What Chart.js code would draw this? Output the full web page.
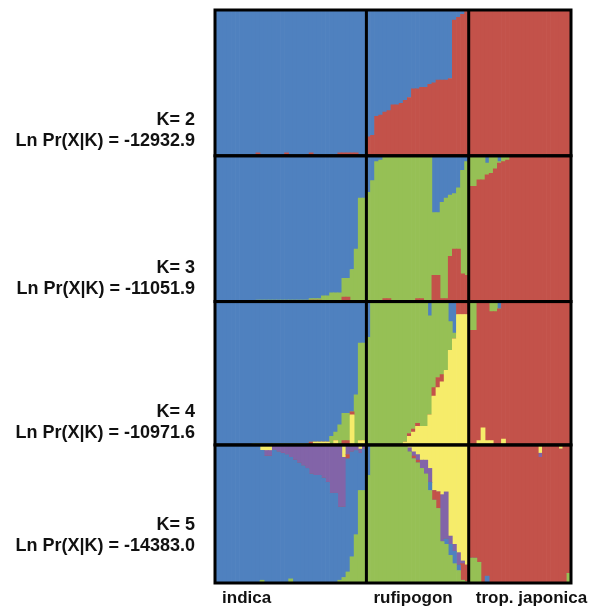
<!DOCTYPE html>
<html>
<head>
<meta charset="utf-8">
<title>STRUCTURE K=2..5</title>
<script src="https://cdn.jsdelivr.net/npm/chart.js@4/dist/chart.umd.min.js"></script>
<style>
  html, body { margin: 0; padding: 0; background: #fff; }
  canvas { display: block; }
</style>
</head>
<body>
<canvas id="structure" width="592" height="610"></canvas>
<script>
// Groups of individuals along the x axis
const groups = ['indica', 'rufipogon', 'trop. japonica'];
const groupSizes = [37, 25, 25];

// Panel labels (left of each panel)
const panelLabels = [
  ['K= 2', 'Ln Pr(X|K) = -12932.9'],
  ['K= 3', 'Ln Pr(X|K) = -11051.9'],
  ['K= 4', 'Ln Pr(X|K) = -10971.6'],
  ['K= 5', 'Ln Pr(X|K) = -14383.0']
];

// Cluster colours
const BLUE = '#4f81bf';
const RED = '#c3524a';
const GREEN = '#96c055';
const YELLOW = '#f6ec6a';
const PURPLE = '#8264a8';

// Membership coefficients, one value per individual
// (rows: indica 0-36, rufipogon 37-61, trop. japonica 62-86)

// K = 2
const k2Red = [
  0,0,0,0,0,0,0,0,0,0, .02,0,0,0,0,0,0,.02,0,0, 0,0,0,.02,0,0,0,0,0,0, .02,.02,.02,.02,.02,0,0,
  .13,.14,.27,.28,.30,.31,.35,.35,.36,.38, .40,.46,.46,.47,.47,.49,.50,.52,.52,.52, .53,.93,.95,.97,.99,
  1,1,1,1,1,1,1,1,1,1, 1,1,1,1,1,1,1,1,1,1, 1,1,1,1,1
];
const k2Blue = [
  1,1,1,1,1,1,1,1,1,1, .98,1,1,1,1,1,1,.98,1,1, 1,1,1,.98,1,1,1,1,1,1, .98,.98,.98,.98,.98,1,1,
  .87,.86,.73,.72,.70,.69,.65,.65,.64,.62, .60,.54,.54,.53,.53,.51,.50,.48,.48,.48, .47,.07,.05,.03,.01,
  0,0,0,0,0,0,0,0,0,0, 0,0,0,0,0,0,0,0,0,0, 0,0,0,0,0
];

// K = 3
const k3Red = [
  0,0,0,0,0,0,0,0,0,0, 0,0,0,0,0,0,0,0,0,0, 0,0,0,.01,.01,.01,0,0,0,0, 0,.03,.03,0,0,0,0,
  0,0,0,0,.02,.02,0,0,0,0, 0,0,.02,.02,0,0,.18,.18,.02,.02, .31,.36,.36,.19,.18,
  .79,.79,.835,.835,.87,.88,.91,.95,.96,.97, .99,.99,.99,.99,1,1,1,1,1,1, 1,1,1,1,1
];
const k3Green = [
  0,0,0,0,0,0,0,0,0,0, .01,.01,.01,.01,.01,.01,.01,.01,.01,.01, .01,.01,.01,.01,.01,.01,.04,.04,.06,.06, .06,.13,.13,.22,.36,.71,.71,
  .75,.83,.96,.97,.98,.98,1,1,1,1, 1,1,.98,.98,1,1,.43,.43,.66,.69, .42,.38,.42,.71,.78,
  .21,.21,.165,.165,.08,.12,.09,.01,.04,.03, .01,.01,.01,.01,0,0,0,0,0,0, 0,0,0,0,0
];
const k3Blue = [
  1,1,1,1,1,1,1,1,1,1, .99,.99,.99,.99,.99,.99,.99,.99,.99,.99, .99,.99,.99,.98,.98,.98,.96,.96,.94,.94, .94,.84,.84,.78,.64,.29,.29,
  .25,.17,.04,.03,0,0,0,0,0,0, 0,0,0,0,0,0,.39,.39,.32,.29, .27,.26,.22,.10,.04,
  0,0,0,0,.05,0,0,.04,0,0, 0,0,0,0,0,0,0,0,0,0, 0,0,0,0,0
];

// K = 4
const k4Yellow = [
  0,0,0,0,0,0,0,0,0,0, 0,0,0,0,0,0,0,0,0,0, 0,0,0,0,.02,.02,.02,.02,0,.03, 0,0,0,.21,0,.03,.03,
  0,0,0,0,0,0,0,0,0,.02, .06,.09,.13,.13,.13,.21,.34,.40,.44,.52, .66,.74,.91,.91,.91,
  0,0,.03,.12,.03,.03,0,0,.04,0, 0,0,0,0,0,0,0,0,0,0, 0,0,0,0,0
];
const k4Red = [
  0,0,0,0,0,0,0,0,0,0, 0,0,0,0,0,0,0,0,0,0, 0,0,0,.02,0,0,0,0,0,0, 0,.03,.03,.02,0,0,0,
  0,0,0,0,0,0,0,0,0,0, .02,.02,.02,0,0,0,.06,.07,.05,0, 0,0,.09,.09,.09,
  .80,.80,.97,.88,.97,.90,.93,.95,.96,1, 1,1,1,1,1,1,1,1,1,1, 1,1,1,1,1
];
const k4Green = [
  0,0,0,0,0,0,0,0,0,.01, .01,.01,.01,.01,.01,.01,.01,.01,.01,.01, .01,.01,.01,0,0,0,0,0,.06,.06, .14,.19,.19,0,.35,.68,.68,
  .75,1,1,1,1,1,1,1,1,.98, .92,.89,.85,.87,.87,.69,.60,.53,.51,.48, .20,.04,0,0,0,
  .20,.20,0,0,0,.07,.07,0,0,0, 0,0,0,0,0,0,0,0,0,0, 0,0,0,0,0
];
const k4Blue = [
  1,1,1,1,1,1,1,1,1,.99, .99,.99,.99,.99,.99,.99,.99,.99,.99,.99, .99,.99,.99,.98,.98,.98,.98,.98,.94,.91, .86,.78,.78,.77,.65,.29,.29,
  .25,0,0,0,0,0,0,0,0,0, 0,0,0,0,0,.10,0,0,0,0, .14,.22,0,0,0,
  0,0,0,0,0,0,0,.05,0,0, 0,0,0,0,0,0,0,0,0,0, 0,0,0,0,0
];

// K = 5
const k5Green = [
  0,0,0,0,0,0,0,0,0,0, 0,.02,0,0,0,0,0,0,.03,0, 0,0,0,0,0,0,0,0,0,0, .02,.04,.08,.19,.35,.67,.67,
  .78,1,1,1,1,1,1,1,1,1, .95,.90,.87,.83,.79,.67,.60,.54,.30,.28, .20,.14,.09,.02,.01,
  .18,.18,.15,0,0,0,0,0,0,0, 0,0,0,0,0,0,0,0,0,0, 0,0,0,0,.07
];
const k5Blue = [
  1,1,1,1,1,1,1,1,1,1, 1,.94,.92,.92,.96,.95,.94,.93,.88,.89, .87,.85,.83,.79,.78,.78,.76,.73,.65,.65, .53,.51,.82,.76,.61,.27,.30,
  .22,0,0,0,0,0,0,0,0,0, 0,0,0,0,0,.06,0,0,0,.04, .08,.09,.04,0,0,
  0,0,0,0,.05,0,0,0,0,0, 0,0,0,0,0,0,0,0,0,0, 0,0,0,0,0
];
const k5Red = [
  0,0,0,0,0,0,0,0,0,0, 0,0,0,0,0,0,0,0,0,0, 0,0,0,0,0,0,0,0,0,0, 0,0,.03,0,0,0,0,
  0,0,0,0,0,0,0,0,0,0, 0,.02,.02,0,0,0,.07,.12,0,0, 0,0,0,.12,.12,
  .82,.82,.85,1,.95,1,1,1,1,1, 1,1,1,1,1,1,1,.91,1,1, 1,1,.97,1,.93
];
const k5Purple = [
  0,0,0,0,0,0,0,0,0,0, 0,0,.04,.04,.04,.05,.06,.07,.09,.11, .13,.15,.17,.21,.22,.22,.24,.27,.35,.35, .45,.36,.07,.05,.04,.03,.03,
  0,0,0,0,0,0,0,0,0,0, .03,.03,.04,.06,.10,.10,0,0,.34,.34, .06,.05,.09,.02,0,
  0,0,0,0,0,0,0,0,0,0, 0,0,0,0,0,0,0,.03,0,0, 0,0,0,0,0
];
const k5Yellow = [
  0,0,0,0,0,0,0,0,0,0, 0,.04,.04,.04,0,0,0,0,0,0, 0,0,0,0,0,0,0,0,0,0, 0,.09,0,0,0,.03,0,
  0,0,0,0,0,0,0,0,0,0, .02,.05,.07,.11,.11,.17,.33,.34,.36,.34, .66,.72,.78,.84,.87,
  0,0,0,0,0,0,0,0,0,0, 0,0,0,0,0,0,0,.06,0,0, 0,0,.03,0,0
];

// Where each panel's label block sits, in that panel's 0..1 units
const labelAt = [0.176, 0.156, 0.157, 0.344];
const panelWeights = [145.7, 145.7, 143.3, 138];
const panelIds = ['yK2', 'yK3', 'yK4', 'yK5'];

// One category per individual, grouped
const individuals = [];
const groupStart = {};
groups.forEach((g, gi) => {
  groupStart[individuals.length] = g;
  for (let i = 0; i < groupSizes[gi]; i++) individuals.push(`${g} ${i + 1}`);
});

const fontFamily = "'Liberation Sans', Arial, sans-serif";
const panelFont = { family: fontFamily, size: 18, weight: 'bold', lineHeight: 1.17 };
const groupFont = { family: fontFamily, size: 17, weight: 'bold' };

// Stacked layers per panel, bottom to top
const panels = [
  [[k2Red, RED], [k2Blue, BLUE]],
  [[k3Red, RED], [k3Green, GREEN], [k3Blue, BLUE]],
  [[k4Yellow, YELLOW], [k4Red, RED], [k4Green, GREEN], [k4Blue, BLUE]],
  [[k5Green, GREEN], [k5Blue, BLUE], [k5Red, RED], [k5Purple, PURPLE], [k5Yellow, YELLOW]]
];

const datasets = [];
panels.forEach((layers, p) => {
  layers.forEach(([data, color]) => {
    datasets.push({
      data,
      backgroundColor: color,
      borderWidth: 0,
      barPercentage: 1,
      categoryPercentage: 1,
      yAxisID: panelIds[p],
      stack: 'q'
    });
  });
});

const scales = {
  x: {
    type: 'category',
    stacked: true,
    grid: { display: false, drawTicks: false },
    border: { display: false },
    afterFit: s => {
      s.height = 27;
      s.paddingLeft = 0;
      s.paddingRight = 0;
    },
    ticks: {
      autoSkip: false,
      maxRotation: 0,
      minRotation: 0,
      align: 'start',
      labelOffset: 5,
      padding: 5,
      color: '#111',
      font: groupFont,
      callback: (value, index) => groupStart[index] || ''
    }
  }
};

panelIds.forEach((id, p) => {
  scales[id] = {
    type: 'linear',
    position: 'left',
    stack: 'panels',
    stackWeight: panelWeights[p],
    weight: panelIds.length - p,
    stacked: true,
    min: 0,
    max: 1,
    grid: { display: false, drawTicks: false },
    border: { display: false },
    afterFit: s => {
      s.width = 215;
      // labels are placed by hand, so they must not push the plot area
      s.paddingTop = 0;
      s.paddingBottom = 0;
    },
    afterBuildTicks: s => { s.ticks = [{ value: labelAt[p] }]; },
    ticks: {
      padding: 20,
      color: '#111',
      font: panelFont,
      callback: () => panelLabels[p]
    }
  };
});

// Black frame round each panel plus the group dividers
const framePlugin = {
  id: 'frames',
  afterDatasetsDraw(chart) {
    const { ctx, chartArea } = chart;
    const x = chart.scales.x;
    ctx.save();
    ctx.strokeStyle = '#000';
    ctx.lineWidth = 3;
    panelIds.forEach(id => {
      const s = chart.scales[id];
      ctx.strokeRect(chartArea.left, s.top, chartArea.right - chartArea.left, s.bottom - s.top);
    });
    let start = 0;
    groupSizes.slice(0, -1).forEach(n => {
      start += n;
      const px = (x.getPixelForValue(start - 1) + x.getPixelForValue(start)) / 2;
      ctx.beginPath();
      ctx.moveTo(px, chartArea.top);
      ctx.lineTo(px, chartArea.bottom);
      ctx.stroke();
    });
    ctx.restore();
  }
};

new Chart(document.getElementById('structure'), {
  type: 'bar',
  data: { labels: individuals, datasets },
  options: {
    responsive: false,
    animation: false,
    devicePixelRatio: 1,
    layout: { padding: { left: 0, right: 21, top: 10, bottom: 0 } },
    plugins: { legend: { display: false }, tooltip: { enabled: false } },
    scales
  },
  plugins: [framePlugin]
});
</script>
</body>
</html>
